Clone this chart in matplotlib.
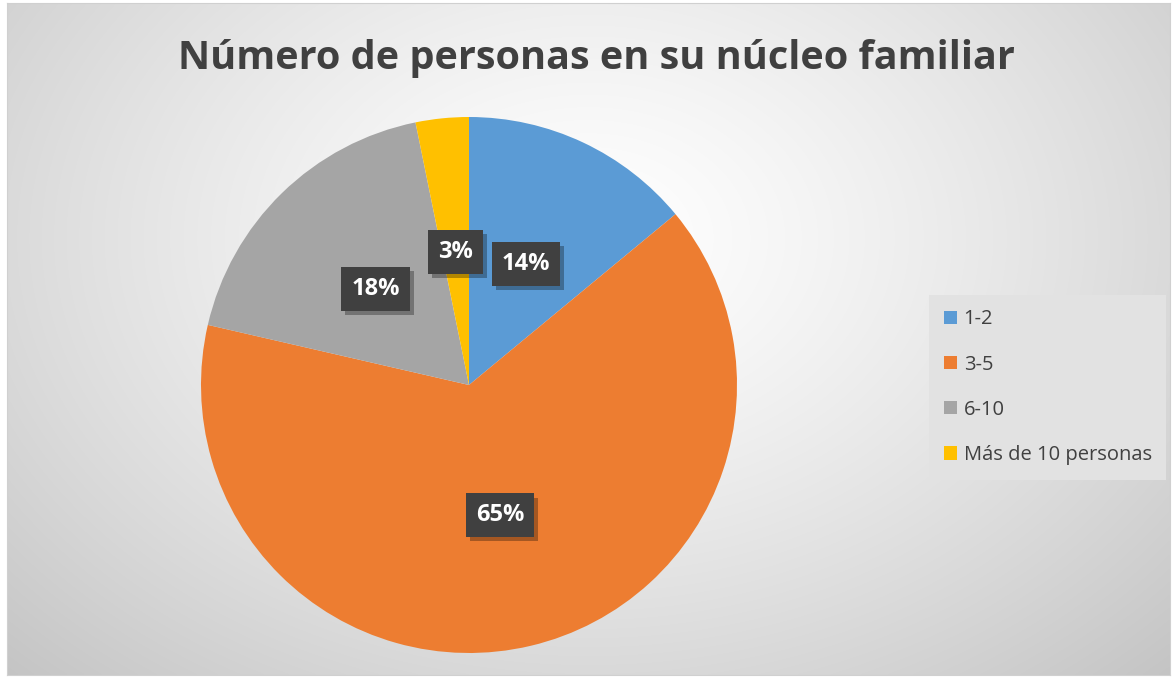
import numpy as np
import matplotlib
matplotlib.use("Agg")
import matplotlib.pyplot as plt
import matplotlib.patheffects as pe

# data
categorias = ["1-2", "3-5", "6-10", "Más de 10 personas"]
porcentajes = [14.0, 64.6, 18.2, 3.2]
colores = ["#5B9BD5", "#ED7D31", "#A5A5A5", "#FFC000"]
titulo = "Número de personas en su núcleo familiar"

plt.rcParams['font.family'] = ['Open Sans', 'DejaVu Sans']

W, H = 1173, 678
fig = plt.figure(figsize=(W / 100, H / 100), dpi=100)
fig.patch.set_facecolor("white")

# background with a radial gradient (Excel style)
bg = fig.add_axes([7 / W, 3 / H, 1163 / W, 672 / H])
yy, xx = np.mgrid[0:1:300j, 0:1:500j]
d = np.sqrt(((xx - 0.5) / 0.75) ** 2 + ((yy - 0.35) / 0.95) ** 2)
d = np.clip(d / d.max(), 0, 1)
val = 1.0 - 0.23 * d ** 1.3
bg.imshow(np.dstack([val, val, val]), aspect="auto", extent=[0, 1, 1, 0],
          interpolation="bilinear")
bg.set_xticks([])
bg.set_yticks([])
for s in bg.spines.values():
    s.set_color("#d0d0d0")
    s.set_linewidth(0.8)

# pie
cx, cy, r = 469, 385, 268
ax = fig.add_axes([(cx - r) / W, (H - cy - r) / H, 2 * r / W, 2 * r / H])
wedges, texts, autotexts = ax.pie(
    porcentajes, colors=colores, startangle=90, counterclock=False,
    autopct=lambda p: "%d%%" % round(p), pctdistance=0.5,
    wedgeprops=dict(linewidth=0))
ax.set_aspect("auto")
ax.set_xlim(-1, 1)
ax.set_ylim(-1, 1)

for t in autotexts:
    t.set_color("white")
    t.set_fontsize(17)
    t.set_fontweight("bold")
    t.set_bbox(dict(boxstyle="square,pad=0.42", facecolor="#404040",
                    edgecolor="none"))
    t.get_bbox_patch().set_path_effects(
        [pe.withSimplePatchShadow(offset=(3, -3), shadow_rgbFace="black",
                                  alpha=0.3)])

fig.text(596 / W, 1 - 58 / H, titulo, ha="center", va="center",
         fontsize=28.5, fontweight="bold", color="#404040")

leg = fig.legend(wedges, categorias, loc="upper left",
                 bbox_to_anchor=(929 / W, 1 - 295 / H),
                 frameon=True, fontsize=14.5, labelspacing=1.25,
                 handlelength=0.65, handleheight=0.65, handletextpad=0.35,
                 borderpad=0.72, borderaxespad=0, fancybox=False)
leg.get_frame().set_facecolor("#e2e2e2")
leg.get_frame().set_edgecolor("none")
leg.get_frame().set_alpha(1)
for t in leg.get_texts():
    t.set_color("#404040")

fig.savefig("out.png", dpi=100)
